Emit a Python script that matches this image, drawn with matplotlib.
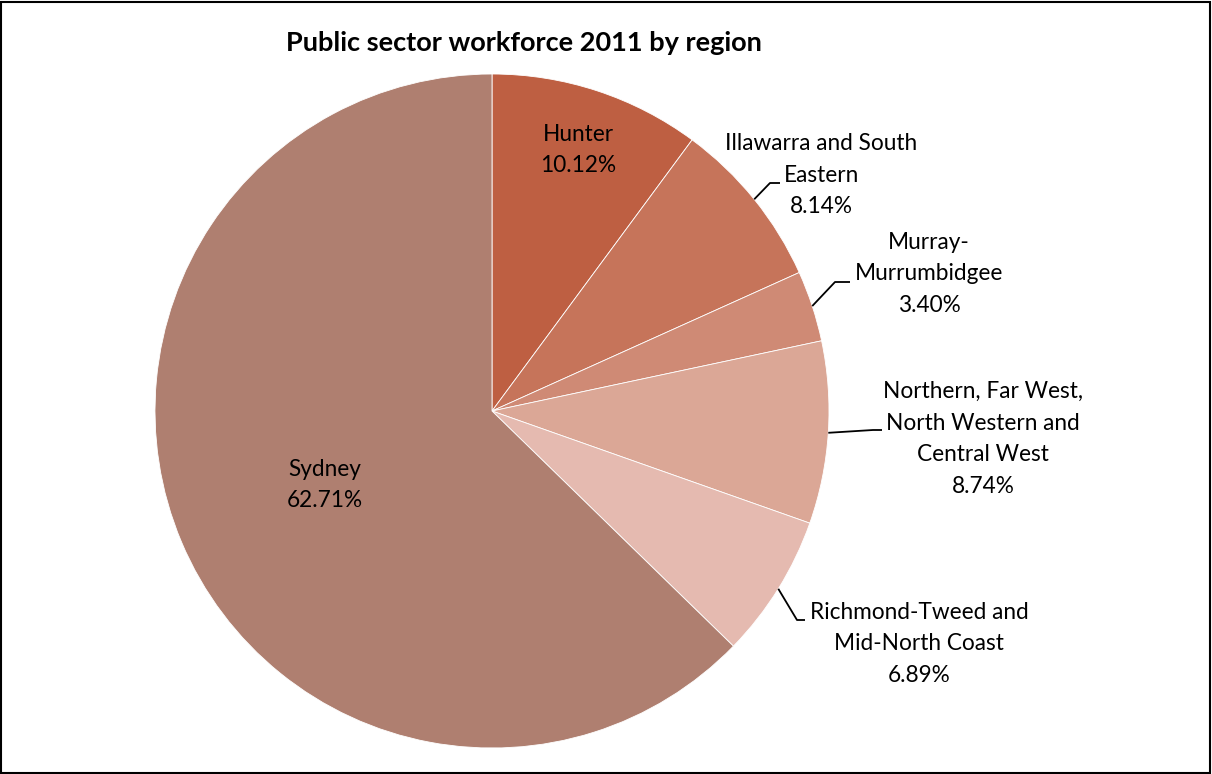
import matplotlib
matplotlib.use("Agg")
import matplotlib.pyplot as plt
import numpy as np

plt.rcParams['font.family'] = ['Lato', 'DejaVu Sans']

regions = ["Hunter", "Illawarra and South\nEastern", "Murray-\nMurrumbidgee",
           "Northern, Far West,\nNorth Western and\nCentral West",
           "Richmond-Tweed and\nMid-North Coast", "Sydney"]
shares = [10.12, 8.14, 3.40, 8.74, 6.89, 62.71]
colors = ["#BE5F42", "#C6745A", "#CF8A75", "#DBA796", "#E5BAB0", "#AF7F70"]
title = "Public sector workforce 2011 by region"

W, H = 1212, 774
fig = plt.figure(figsize=(W/100, H/100), dpi=100)
cx, cy, R = 492, 411, 337
ax = fig.add_axes([(cx-R)/W, (H-cy-R)/H, 2*R/W, 2*R/H])
wedges, _ = ax.pie(shares, colors=colors, startangle=90, counterclock=False,
                   radius=1.0, wedgeprops=dict(edgecolor='white', linewidth=0.6))
ax.set_xlim(-1, 1); ax.set_ylim(-1, 1)
ax.set_aspect('equal')
ax.axis('off')

def px2data(px, py):
    return (px - cx) / R, (cy - py) / R

# label layout: (text center px, text center py, inside?, elbow points px)
layout = [
    (578, 150, True, None),
    (821, 175, False, (770, 183, 780, 183)),
    (929, 274, False, (835, 282, 850, 282)),
    (983, 439, False, (873, 430, 882, 430)),
    (919, 644, False, (797, 620, 805, 620)),
    (325, 485, True, None),
]
fs = 16.3
for w, name, val, (tx, ty, inside, elbow) in zip(wedges, regions, shares, layout):
    label = f"{name}\n{val:.2f}%"
    x, y = px2data(tx, ty)
    ax.text(x, y, label, ha='center', va='center', fontsize=fs,
            color='black', linespacing=1.62)
    if elbow is not None:
        mid = np.deg2rad((w.theta1 + w.theta2) / 2)
        sx, sy = np.cos(mid), np.sin(mid)
        ex, ey = px2data(elbow[0], elbow[1])
        fx, fy = px2data(elbow[2], elbow[3])
        ax.plot([sx, ex, fx], [sy, ey, fy], color='black', lw=1.3,
                solid_capstyle='butt', clip_on=False)

fig.text(524/W, 1 - 43/H, title, ha='center', va='center', fontsize=19.5,
         fontweight='bold')

border = plt.Rectangle((1/W, 1/H), 1 - 3/W, 1 - 3/H, transform=fig.transFigure,
                       fill=False, edgecolor='black', lw=1.5)
fig.patches.append(border)

fig.savefig("out.png", dpi=100, facecolor='white')
